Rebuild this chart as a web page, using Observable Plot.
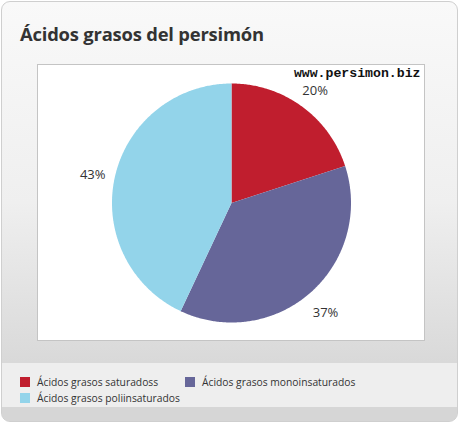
<!DOCTYPE html>
<html><head><meta charset="utf-8">
<script src="https://cdn.jsdelivr.net/npm/d3@7"></script>
<script src="https://cdn.jsdelivr.net/npm/@observablehq/plot@0.6"></script>
<style>
body{margin:0;background:#fff;font-family:"Open Sans",sans-serif;}
#card{position:absolute;left:1px;top:1px;width:455px;height:419px;border:1px solid #cfcfcf;border-radius:9px;overflow:hidden;
background:linear-gradient(#f9f9f9 0px,#efefef 200px,#d9d9d9 360px);}
#title{position:absolute;left:18px;top:19px;font-size:18.4px;font-weight:bold;color:#333;font-family:"Open Sans",sans-serif;letter-spacing:-0.2px;}
#box{position:absolute;left:35px;top:62px;width:386px;height:275px;background:#fff;border:1px solid #c4c4c4;}
#legend{position:absolute;left:0;top:361px;width:457px;height:44px;background:#eeeeee;}
#bottom{position:absolute;left:0;top:405px;width:457px;height:16px;background:#d6d6d6;}
.li{position:absolute;font-size:10.3px;color:#333;white-space:nowrap;line-height:12px;}
.sw{position:absolute;width:10px;height:10px;}
</style></head>
<body>
<div id="card">
<div id="title">Ácidos grasos del persimón</div>
<div id="box"></div>
<div id="legend"></div>
<div id="bottom"></div>
</div>
<script>
const categories = ["Ácidos grasos saturadoss", "Ácidos grasos monoinsaturados", "Ácidos grasos poliinsaturados"];
const values = [20, 37, 43];
const labels = ["20%", "37%", "43%"];
const colors = ["#c01e2e", "#666699", "#93d4ea"];
const watermark = "www.persimon.biz";

const W = 386, H = 275, R = 119.5;
const pie = d3.pie().sort(null).value(d => d)(values);
const pts = [];
pie.forEach((a, i) => {
  pts.push({cat: categories[i], x: 0, y: 0});
  const n = Math.max(2, Math.ceil((a.endAngle - a.startAngle) / 0.01));
  for (let k = 0; k <= n; k++) {
    const t = a.startAngle + (a.endAngle - a.startAngle) * k / n;
    pts.push({cat: categories[i], x: Math.sin(t), y: Math.cos(t)});
  }
  pts.push({cat: categories[i], x: 0, y: 0});
});
const lab = pie.map((a, i) => {
  const m = (a.startAngle + a.endAngle) / 2;
  return {text: labels[i], x: 1.19 * Math.sin(m), y: 1.19 * Math.cos(m)};
});

const chart = Plot.plot({
  width: W, height: H, margin: 0,
  x: {domain: [-W / 2 / R, W / 2 / R], axis: null},
  y: {domain: [-H / 2 / R, H / 2 / R], axis: null},
  color: {domain: categories, range: colors},
  style: {background: "transparent", overflow: "visible"},
  marks: [
    Plot.line(pts, {x: "x", y: "y", z: "cat", fill: "cat", stroke: "none", curve: "linear"}),
    Plot.text(lab, {x: "x", y: "y", text: "text", fontSize: 13, fill: "#333", fontFamily: "Open Sans", dy: 3}),
    Plot.text([watermark], {frameAnchor: "top-right", dx: -4, dy: 2, fontSize: 13.2, fontWeight: "bold", fontFamily: "Liberation Mono", fill: "#111"})
  ]
});
document.getElementById("box").appendChild(chart);

const leg = document.getElementById("legend");
const pos = [[18, 14], [183, 14], [18, 30]];
categories.forEach((c, i) => {
  const s = document.createElement("div");
  s.className = "sw"; s.style.left = pos[i][0] + "px"; s.style.top = pos[i][1] + "px"; s.style.background = colors[i];
  leg.appendChild(s);
  const t = document.createElement("div");
  t.className = "li"; t.style.left = (pos[i][0] + 17) + "px"; t.style.top = (pos[i][1] - 1) + "px"; t.textContent = c;
  leg.appendChild(t);
});
</script>
</body></html>
